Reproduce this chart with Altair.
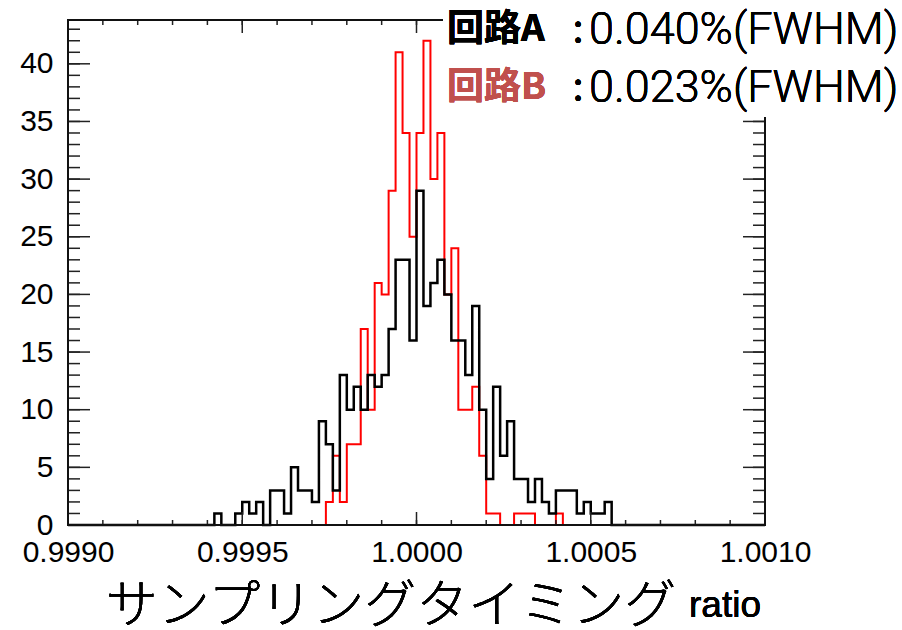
import altair as alt
import numpy as np
import pandas as pd

# Histogram binning of the sampling-timing ratio
X_MIN, X_MAX = 0.9990, 1.0010
N_BINS = 100
FIRST_BIN = 21  # index of the first listed bin

# Counts per bin, starting at FIRST_BIN
counts_a = [1, 0, 0, 1, 2, 1, 2, 0, 3, 3,
            1, 5, 3, 3, 2, 9, 7, 3, 13, 10,
            12, 10, 13, 12, 13, 17, 23, 23, 16, 29,
            19, 21, 23, 20, 16, 16, 13, 19, 10, 4,
            12, 6, 9, 4, 4, 2, 4, 2, 1, 3,
            3, 3, 1, 2, 1, 1, 2]
counts_b = [0, 0, 0, 0, 0, 0, 0, 0, 0, 0,
            0, 0, 0, 0, 0, 0, 2, 6, 2, 7,
            7, 17, 10, 21, 20, 29, 41, 34, 25, 34,
            42, 30, 34, 20, 24, 10, 10, 12, 6, 1,
            1, 0, 0, 1, 1, 1, 0, 0, 0, 1,
            0, 0, 0, 0, 0, 0, 0]

series_names = ["回路A", "回路B"]
series_fwhm = ["0.040%(FWHM)", "0.023%(FWHM)"]
series_line_colors = ["#000000", "#ff0000"]
series_label_colors = ["#000000", "#c0504d"]

x_major = [0.9990, 0.9995, 1.0000, 1.0005, 1.0010]
x_minor = list(np.round(np.arange(0.9990, 1.00101, 0.0001), 4))
y_major = [0, 5, 10, 15, 20, 25, 30, 35, 40]
y_minor = list(range(0, 44))
Y_MAX = 43.8

W, H = 697, 505


def step_frame(counts, name):
    full = [0] * FIRST_BIN + counts
    full = full + [0] * (N_BINS - len(full)) + [0]
    edges = [X_MIN + k * (X_MAX - X_MIN) / N_BINS for k in range(N_BINS + 1)]
    return pd.DataFrame({"ratio": edges, "count": full, "series": name})


hist_a = step_frame(counts_a, series_names[0])
hist_b = step_frame(counts_b, series_names[1])

x_scale = alt.Scale(domain=[X_MIN, X_MAX], nice=False, zero=False)
y_scale = alt.Scale(domain=[0, Y_MAX], nice=False, zero=True)

x_axis = alt.Axis(values=x_major, format=".4f", labelFontSize=30, labelFont="Liberation Sans",
                  labelColor="black", ticks=False, domain=False, grid=False, labelPadding=12,
                  labelFlush=False, labelOverlap=False, title=None)
y_axis = alt.Axis(values=y_major, format="d", labelFontSize=30, labelFont="Liberation Sans",
                  labelColor="black", ticks=False, domain=False, grid=False, labelPadding=15,
                  labelOverlap=False, title=None)

xs = alt.X("ratio:Q", scale=x_scale, axis=x_axis)
ys = alt.Y("count:Q", scale=y_scale, axis=y_axis)

line_b = alt.Chart(hist_b).mark_line(interpolate="step-after", color=series_line_colors[1],
                                      strokeWidth=2).encode(x=xs, y=ys)
line_a = alt.Chart(hist_a).mark_line(interpolate="step-after", color=series_line_colors[0],
                                      strokeWidth=2.5).encode(x=xs, y=ys)

# inward tick marks on all four sides
xmaj_df = pd.DataFrame({"ratio": x_major})
xmin_df = pd.DataFrame({"ratio": x_minor})
ymaj_df = pd.DataFrame({"count": y_major})
ymin_df = pd.DataFrame({"count": y_minor})

tick_style = dict(color="#222222", strokeWidth=1.5)

ticks = [
    alt.Chart(xmaj_df).mark_rule(**tick_style).encode(x=xs, y=alt.value(H), y2=alt.value(H - 13)),
    alt.Chart(xmin_df).mark_rule(**tick_style).encode(x=xs, y=alt.value(H), y2=alt.value(H - 5)),
    alt.Chart(xmaj_df).mark_rule(**tick_style).encode(x=xs, y=alt.value(0), y2=alt.value(13)),
    alt.Chart(xmin_df).mark_rule(**tick_style).encode(x=xs, y=alt.value(0), y2=alt.value(5)),
    alt.Chart(ymaj_df).mark_rule(**tick_style).encode(y=ys, x=alt.value(0), x2=alt.value(22)),
    alt.Chart(ymin_df).mark_rule(**tick_style).encode(y=ys, x=alt.value(0), x2=alt.value(12)),
    alt.Chart(ymaj_df).mark_rule(**tick_style).encode(y=ys, x=alt.value(W), x2=alt.value(W - 22)),
    alt.Chart(ymin_df).mark_rule(**tick_style).encode(y=ys, x=alt.value(W), x2=alt.value(W - 12)),
]

frame = alt.Chart(xmaj_df).mark_rect(filled=False, stroke="#111111", strokeWidth=2).encode(
    x=alt.value(0), x2=alt.value(W), y=alt.value(0), y2=alt.value(H))

# legend box in the upper right
legend_bg = alt.Chart(xmaj_df).mark_rect(color="white").encode(
    x=alt.value(375), x2=alt.value(840), y=alt.value(-20), y2=alt.value(97))

legend_marks = []
for i, ypos in enumerate([10, 68]):
    legend_marks.append(
        alt.Chart(xmaj_df).mark_text(text=series_names[i], font="Noto Sans CJK JP", fontWeight="bold",
                                     fontSize=37, align="left", baseline="middle",
                                     color=series_label_colors[i]).encode(x=alt.value(379), y=alt.value(ypos)))
    legend_marks.append(
        alt.Chart(xmaj_df).mark_text(text=":", font="Noto Sans CJK JP", fontSize=40, align="center",
                                     baseline="middle", color="black").encode(x=alt.value(510), y=alt.value(ypos)))
    legend_marks.append(
        alt.Chart(xmaj_df).mark_text(text=series_fwhm[i], font="Roboto", fontWeight=300, fontSize=45,
                                     align="left", baseline="middle",
                                     color="black").encode(x=alt.value(521), y=alt.value(ypos)))

title_main = alt.Chart(xmaj_df).mark_text(text="サンプリングタイミング", font="Noto Sans CJK JP",
                                          fontWeight=300, fontSize=52, align="center", baseline="middle",
                                          color="black").encode(x=alt.value(323), y=alt.value(587))
title_unit = alt.Chart(xmaj_df).mark_text(text="ratio", font="Liberation Sans", fontSize=37,
                                          align="left", baseline="alphabetic",
                                          color="black").encode(x=alt.value(621), y=alt.value(597))

chart = alt.layer(
    line_b, line_a, *ticks, frame, legend_bg, *legend_marks, title_main, title_unit
).properties(
    width=W, height=H,
    padding={"left": 68, "top": 20, "right": 137, "bottom": 105},
    autosize=alt.AutoSizeParams(type="none"),
).configure_view(stroke=None).configure(background="white")

chart.save("out.html", embed_options={"renderer": "svg", "actions": False})
